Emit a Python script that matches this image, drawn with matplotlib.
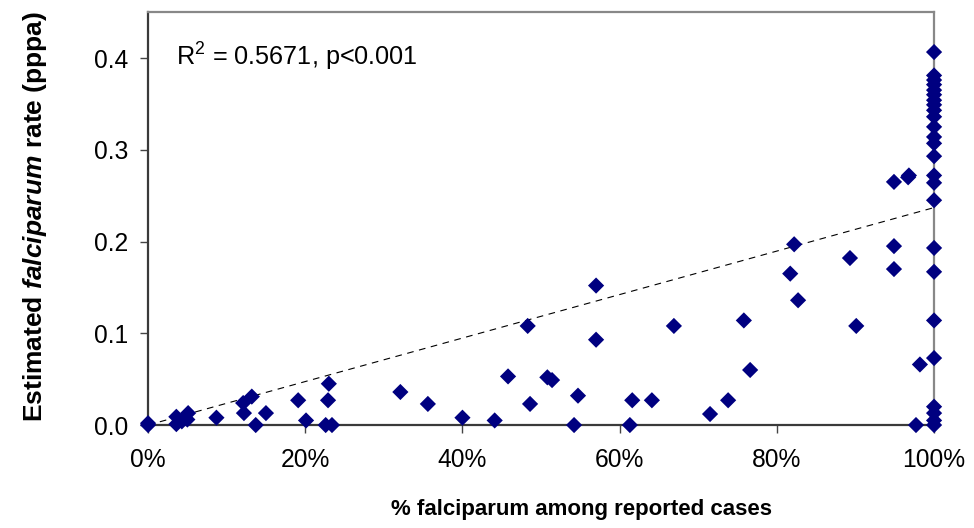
import numpy as np
import matplotlib
matplotlib.use("Agg")
import matplotlib.pyplot as plt
from matplotlib.ticker import PercentFormatter

plt.rcParams['font.family'] = ['Liberation Sans', 'DejaVu Sans']
plt.rcParams['mathtext.fontset'] = 'custom'
plt.rcParams['mathtext.rm'] = 'Liberation Sans'
plt.rcParams['mathtext.it'] = 'Liberation Sans:italic:bold'

# share of falciparum among reported cases (0-1) and estimated falciparum rate
pct_falc = [0.0, 0.0, 0.036, 0.036, 0.051, 0.05, 0.043, 0.087, 0.122, 0.121, 0.132,
            0.137, 0.15, 0.191, 0.201, 0.226, 0.234, 0.229, 0.23, 0.321, 0.356,
            0.40, 0.441, 0.458, 0.483, 0.486, 0.508, 0.514, 0.542, 0.547, 0.570,
            0.570, 0.613, 0.616, 0.641, 0.669, 0.715, 0.738, 0.758, 0.766, 0.817,
            0.822, 0.827, 0.893, 0.901, 0.949, 0.967, 0.968, 0.949, 0.949, 0.982,
            0.977]
rate = [0.0, 0.002, 0.009, 0.001, 0.013, 0.006, 0.004, 0.008, 0.013, 0.024, 0.031,
        0.0, 0.013, 0.027, 0.005, 0.0, 0.0, 0.027, 0.045, 0.036, 0.023,
        0.008, 0.005, 0.053, 0.108, 0.023, 0.052, 0.049, 0.0, 0.032, 0.152,
        0.093, 0.0, 0.027, 0.027, 0.108, 0.012, 0.027, 0.114, 0.06, 0.165,
        0.197, 0.136, 0.182, 0.108, 0.265, 0.270, 0.272, 0.195, 0.170, 0.066,
        0.0]

# areas where all reported cases are falciparum
rate_100 = [0.4065, 0.381, 0.376, 0.371, 0.365, 0.360, 0.354, 0.349, 0.343, 0.336,
            0.325, 0.314, 0.307, 0.293, 0.272, 0.264, 0.245, 0.193, 0.167, 0.114,
            0.073, 0.02, 0.013, 0.005, 0.0]

trend_x = [0.0, 1.0]
trend_y = [0.0, 0.237]

x = np.array(pct_falc + [1.0] * len(rate_100))
y = np.array(rate + rate_100)

fig = plt.figure(figsize=(9.74, 5.28), dpi=100)
ax = fig.add_axes([0.152, 0.195, 0.807, 0.782])

ax.plot(trend_x, trend_y, ls=(0, (6, 5)), color='black', lw=0.8, zorder=2)
ax.scatter(x, y, marker='D', s=68, color='#000080', edgecolors='none',
           zorder=3, clip_on=False)

ax.set_xlim(0, 1)
ax.set_ylim(0, 0.45)
ax.set_xticks([0, 0.2, 0.4, 0.6, 0.8, 1.0])
ax.xaxis.set_major_formatter(PercentFormatter(1.0, decimals=0))
ax.set_yticks([0, 0.1, 0.2, 0.3, 0.4])
ax.set_yticklabels(['0.0', '0.1', '0.2', '0.3', '0.4'])
ax.tick_params(direction='out', length=5.8, width=1, labelsize=17.7, color='#444444')
ax.tick_params(axis='x', pad=11)
ax.tick_params(axis='y', pad=8.5)

for s in ['left', 'bottom']:
    ax.spines[s].set_color('#3a3a3a')
    ax.spines[s].set_linewidth(1.6)
for s in ['top', 'right']:
    ax.spines[s].set_color('#888888')
    ax.spines[s].set_linewidth(1.6)

ax.text(0.036, 0.401, r'R$^2$ = 0.5671, p<0.001', fontsize=18.2, va='center')

ax.set_xlabel('% falciparum among reported cases', fontsize=16, fontweight='bold',
              va='center')
ax.xaxis.set_label_coords(0.551, -0.205)
ax.set_ylabel(r'Estimated $\mathit{falciparum}$ rate (pppa)', fontsize=19,
              fontweight='bold', va='center', ha='center')
ax.yaxis.set_label_coords(-0.144, 0.504)

fig.savefig('out.png', dpi=100)
